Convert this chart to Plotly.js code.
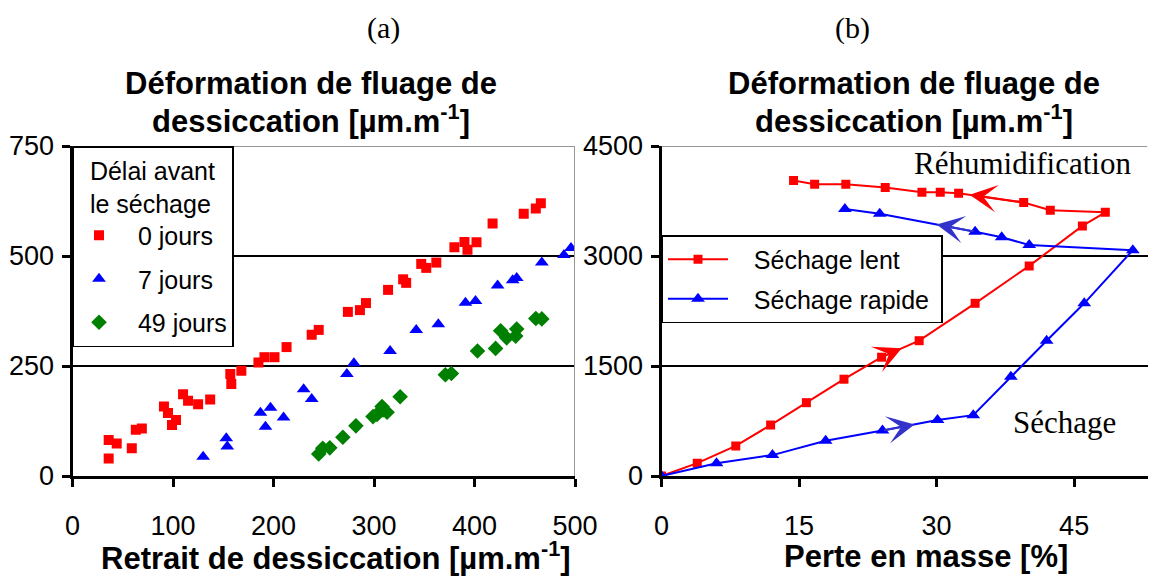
<!DOCTYPE html>
<html><head><meta charset="utf-8">
<script src="https://cdn.plot.ly/plotly-3.0.1.min.js"></script>
<style>html,body{margin:0;padding:0;background:#fff}#chart{width:1163px;height:579px}</style>
</head><body><div id="chart"></div>
<script>
// ---- Panel (a): delay before drying ----
const retrait0 = [36,36,44,59,63,69,91,95,99,103,110,115,125,137,157,158,168,185,191,201,213,238,245,274,286,292,314,329,332,347,352,362,380,390,393,402,418,449,461,466];
const fluage0  = [82,40,74,63,105,108,158,143,116,127,186,171,163,174,232,209,239,258,270,270,293,321,332,373,377,393,423,447,439,482,473,485,520,532,514,531,574,596,608,620];
const retrait7 = [130,153,154,187,192,197,210,230,238,273,280,316,342,364,391,401,423,438,442,467,489,496];
const fluage7  = [44,86,67,144,112,155,133,197,175,232,256,284,332,345,394,398,433,445,450,485,502,518];
const retrait49 = [245,249,256,269,282,299,303,308,309,313,326,371,377,403,421,426,432,441,442,461,467];
const fluage49  = [50,63,64,88,114,135,140,158,150,145,180,230,233,284,290,330,314,318,334,358,357];
const seriesNamesA = ["0 jours","7 jours","49 jours"];
const ticksAX = [0,100,200,300,400,500];
const ticksAY = [0,250,500,750];

// ---- Panel (b): drying / rewetting paths ----
const perteLent  = [0,3.9,8.1,11.9,15.8,19.9,24.0,28.1,34.2,40.1,45.9,48.4,42.4,39.5,32.4,30.4,28.4,24.4,20.1,16.7,14.4];
const fluageLent = [0,175,410,695,1000,1320,1620,1845,2355,2865,3410,3595,3625,3730,3855,3870,3870,3935,3980,3980,4030];
const perteRapide  = [0,6.0,12.1,17.9,24.1,30.1,34.0,38.1,42.0,46.1,51.4,40.1,37.1,34.2,23.8,20.0];
const fluageRapide = [0,175,285,480,620,765,830,1355,1845,2355,3080,3150,3255,3330,3575,3640];
const seriesNamesB = ["Séchage lent","Séchage rapide"];
const ticksBX = [0,15,30,45];
const ticksBY = [0,1500,3000,4500];
// arrows: [headX, headY, tailX, tailY]
const arrowLentSechage = [26.2,1741,24.0,1620];
const arrowLentRehum   = [33.6,3834,39.5,3730];
const arrowRapSechage  = [27.6,703,24.1,618];
const arrowRapRehum    = [30.0,3429,34.2,3332];

const W = 1163, H = 579;
const px = v => v / W, py = v => 1 - v / H;
const SANS = "Liberation Sans, Arial, sans-serif";
const SERIF = "Liberation Serif, Times New Roman, serif";
const NB = "\u00a0";

const traces = [
  {x: retrait0, y: fluage0, name: NB.repeat(2) + seriesNamesA[0], type: "scatter", mode: "markers", xaxis: "x", yaxis: "y",
   marker: {symbol: "square", size: 10, color: "#ff0000"}, legend: "legend", legendgroup: "a0"},
  {x: retrait7, y: fluage7, name: NB.repeat(2) + seriesNamesA[1], type: "scatter", mode: "markers", xaxis: "x", yaxis: "y",
   marker: {symbol: "triangle-up", size: 12, color: "#0000ff"}, legend: "legend", legendgroup: "a1"},
  {x: retrait49, y: fluage49, name: NB.repeat(2) + seriesNamesA[2], type: "scatter", mode: "markers", xaxis: "x", yaxis: "y",
   marker: {symbol: "diamond", size: 12, color: "#008000"}, legend: "legend", legendgroup: "a2"},
  {x: perteLent, y: fluageLent, name: NB.repeat(3) + seriesNamesB[0], type: "scatter", mode: "lines+markers", xaxis: "x2", yaxis: "y2",
   line: {color: "#ff0000", width: 2}, marker: {symbol: "square", size: 9, color: "#ff0000"}, legend: "legend2", legendgroup: "b0"},
  {x: perteRapide, y: fluageRapide, name: NB.repeat(3) + seriesNamesB[1] + NB, type: "scatter", mode: "lines+markers", xaxis: "x2", yaxis: "y2",
   line: {color: "#0000ff", width: 2}, marker: {symbol: "triangle-up", size: 12, color: "#0000ff"}, legend: "legend2", legendgroup: "b1"}
];

const tickFont = {family: SANS, size: 27, color: "#000"};
const baseAxis = {showline: true, linecolor: "#000", linewidth: 3, ticks: "outside", ticklen: 8, tickwidth: 3,
  tickcolor: "#000", zeroline: false, tickfont: tickFont, fixedrange: true};
const overlayAxis = {showline: false, ticks: "inside", ticklen: 8, tickwidth: 3, tickcolor: "#000",
  showticklabels: false, showgrid: false, zeroline: false, fixedrange: true};

const domAX = [px(72.5), px(575)];
const domBX = [px(661.5), px(1147.5)];
const domY = [1 - 476 / H, 1 - 146 / H];

function arrow(a, color, xr, yr) {
  return {x: a[0], y: a[1], ax: a[2], ay: a[3], xref: xr, yref: yr, axref: xr, ayref: yr,
    showarrow: true, arrowhead: 3, arrowsize: 2.3, arrowwidth: 2, arrowcolor: color, text: "", standoff: 0};
}
function label(text, x, y, font) {
  return {text: text, xref: "paper", yref: "paper", x: px(x), y: py(y), xanchor: "center", yanchor: "middle", showarrow: false, font: font};
}
const titleFont = {family: SANS, size: 31, color: "#000"};
const serifFont = {family: SERIF, size: 30, color: "#000"};

const layout = {
  width: W, height: H, margin: {l: 0, r: 0, t: 0, b: 0},
  paper_bgcolor: "#fff", plot_bgcolor: "#fff", showlegend: true,
  xaxis: Object.assign({}, baseAxis, {domain: domAX, anchor: "y", range: [0, 500], tickvals: ticksAX, showgrid: false, ticklabelstandoff: 16}),
  yaxis: Object.assign({}, baseAxis, {domain: domY, anchor: "x", range: [0, 750], tickvals: ticksAY, showgrid: true, gridcolor: "#000", gridwidth: 2, ticklabelstandoff: 2}),
  xaxis3: Object.assign({}, overlayAxis, {overlaying: "x", anchor: "y", range: [0, 500], tickvals: ticksAX}),
  yaxis3: Object.assign({}, overlayAxis, {overlaying: "y", anchor: "x", range: [0, 750], tickvals: ticksAY}),
  xaxis2: Object.assign({}, baseAxis, {domain: domBX, anchor: "y2", range: [0, 53], tickvals: ticksBX, showgrid: false, ticklabelstandoff: 16}),
  yaxis2: Object.assign({}, baseAxis, {domain: domY, anchor: "x2", range: [0, 4500], tickvals: ticksBY, showgrid: true, gridcolor: "#000", gridwidth: 2, ticklabelstandoff: 2}),
  xaxis4: Object.assign({}, overlayAxis, {overlaying: "x2", anchor: "y2", range: [0, 53], tickvals: ticksBX}),
  yaxis4: Object.assign({}, overlayAxis, {overlaying: "y2", anchor: "x2", range: [0, 4500], tickvals: ticksBY}),
  legend: {x: px(72.5), y: py(146), xanchor: "left", yanchor: "top", bgcolor: "#fff", bordercolor: "#000", borderwidth: 1.5,
    font: {family: SANS, size: 25, color: "#000"}, tracegroupgap: 8, itemwidth: 40,
    title: {text: NB.repeat(2) + "Délai avant" + NB + "<br>" + NB.repeat(2) + "le séchage", font: {family: SANS, size: 25, color: "#000"}}},
  legend2: {x: px(661.5), y: py(235), xanchor: "left", yanchor: "top", bgcolor: "#fff", bordercolor: "#000", borderwidth: 1.5,
    font: {family: SANS, size: 25, color: "#000"}, tracegroupgap: 4, itemwidth: 60},
  shapes: [
    {type: "line", xref: "x", yref: "y", x0: 0, x1: 500, y0: 750, y1: 750, line: {color: "#999", width: 2}, layer: "above"},
    {type: "line", xref: "x", yref: "y", x0: 500, x1: 500, y0: 0, y1: 750, line: {color: "#999", width: 2}, layer: "above"},
    {type: "line", xref: "x2", yref: "y2", x0: 0, x1: 53, y0: 4500, y1: 4500, line: {color: "#999", width: 2}, layer: "above"}
  ],
  annotations: [
    label("(a)", 383, 28, serifFont),
    label("(b)", 852, 28, serifFont),
    label("<b>Déformation de fluage de</b>", 311, 83, titleFont),
    label("<b>dessiccation [µm.m<sup>-1</sup>]</b>", 311, 119, titleFont),
    label("<b>Déformation de fluage de</b>", 914, 83, titleFont),
    label("<b>dessiccation [µm.m<sup>-1</sup>]</b>", 914, 119, titleFont),
    label("<b>Retrait de dessiccation [µm.m<sup>-1</sup>]</b>", 336, 556, titleFont),
    label("<b>Perte en masse [%]</b>", 926, 556, titleFont),
    {text: "Réhumidification", xref: "x2", yref: "y2", x: 39.4, y: 4268, xanchor: "center", yanchor: "middle", showarrow: false, font: {family: SERIF, size: 31, color: "#000"}},
    {text: "Séchage", xref: "x2", yref: "y2", x: 43.9, y: 723, xanchor: "center", yanchor: "middle", showarrow: false, font: {family: SERIF, size: 31, color: "#000"}},
    arrow(arrowLentSechage, "#ff0000", "x2", "y2"),
    arrow(arrowLentRehum, "#ff0000", "x2", "y2"),
    arrow(arrowRapSechage, "#3333cc", "x2", "y2"),
    arrow(arrowRapRehum, "#3333cc", "x2", "y2")
  ]
};

Plotly.newPlot("chart", traces, layout, {staticPlot: true, displayModeBar: false});
</script>
</body></html>
